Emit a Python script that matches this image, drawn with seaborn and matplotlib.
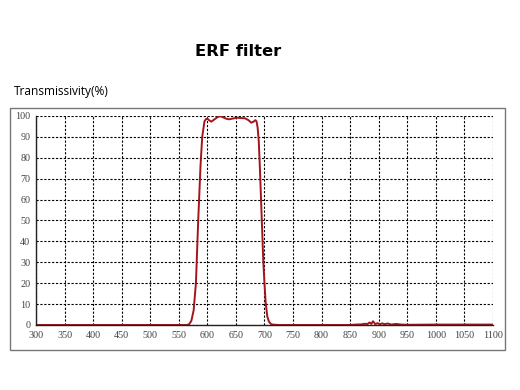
import numpy as np
import pandas as pd
import matplotlib
matplotlib.use("Agg")
import matplotlib.pyplot as plt
import seaborn as sns
from matplotlib.patches import Rectangle

wavelength = [300, 550, 564, 568, 572, 576, 580, 584, 588, 591, 595, 598, 600, 603, 607,
              612, 618, 623, 628, 633, 638, 645, 652, 659, 666, 672, 677, 681, 684, 686,
              688, 690, 692, 694, 696, 698, 700, 702, 705, 708, 712, 718, 725, 850, 860, 870,
              876, 880, 884, 887, 890, 894, 898, 902, 906, 910, 916, 922, 930, 940, 950,
              1000, 1050, 1100]
transmission = [0, 0, 0, 0.3, 2, 7, 20, 50, 76, 90, 97.5, 98.6, 98.7, 98.0, 97.3,
                98.3, 99.5, 99.9, 99.3, 98.7, 98.4, 98.8, 99.2, 99.0, 98.9, 98.0, 96.8, 97.3, 98.0, 97.5,
                94.5, 88, 75, 60, 45, 30, 20, 11, 4, 1.5, 0.3, 0.1, 0, 0, 0.2, 0.3,
                0.6, 0.4, 1.2, 0.5, 1.8, 0.4, 0.9, 0.3, 0.8, 0.4, 0.7, 0.2, 0.5, 0.2, 0.1,
                0.2, 0.2, 0.2]

x_ticks = list(range(300, 1101, 50))
y_ticks = list(range(0, 101, 10))

df = pd.DataFrame({"wavelength": wavelength, "T": transmission})

sns.set_style("white")
plt.rcParams['font.family'] = ['DejaVu Sans']

fig = plt.figure(figsize=(5.2, 3.9), dpi=100)
ax = fig.add_axes([0.0692, 0.1667, 0.8788, 0.5359])

sns.lineplot(data=df, x="wavelength", y="T", ax=ax, color="#a3141b", linewidth=1.4)

ax.set_xlim(300, 1100)
ax.set_ylim(0, 100)
ax.set_xticks(x_ticks)
ax.set_yticks(y_ticks)
ax.set_xlabel("")
ax.set_ylabel("")
ax.grid(True, color="black", linestyle=(0, (2, 1.5)), linewidth=0.8)
for s in ["top", "right"]:
    ax.spines[s].set_visible(False)
for s in ["left", "bottom"]:
    ax.spines[s].set_color("#222222")
    ax.spines[s].set_linewidth(1.0)
ax.tick_params(axis="both", length=0, labelsize=7.3, colors="#444444", pad=4)
for lab in ax.get_xticklabels() + ax.get_yticklabels():
    lab.set_fontfamily("Liberation Serif")

# outer frame
fig.patches.append(Rectangle((10 / 520, 1 - 350 / 390), 495 / 520, 242 / 390,
                             transform=fig.transFigure, fill=False,
                             edgecolor="#777777", linewidth=1.0))

fig.text(238 / 520, 1 - 52 / 390, "ERF filter", ha="center", va="center",
         fontsize=11.8, fontweight="heavy", family="DejaVu Sans", color="black")
fig.text(14 / 520, 1 - 92 / 390, "Transmissivity(%)", ha="left", va="center",
         fontsize=8.6, family="Open Sans", color="black")

fig.savefig("out.png", dpi=100)
